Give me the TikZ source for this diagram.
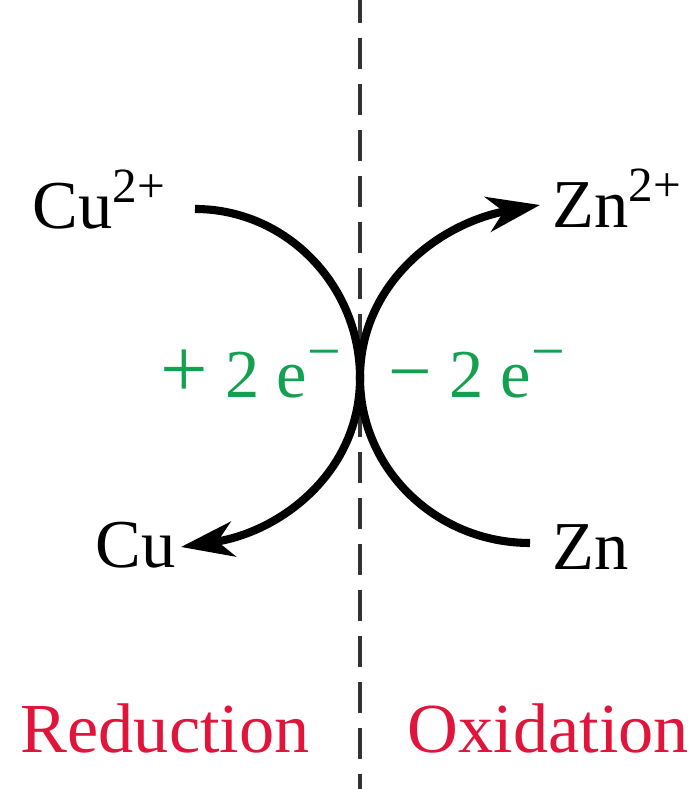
\documentclass[tikz,border=0pt]{standalone}
\usepackage{fontspec}
\setmainfont{Liberation Serif}
\usetikzlibrary{arrows.meta}

\definecolor{elecgreen}{RGB}{20,160,80}
\definecolor{redoxred}{RGB}{225,20,60}

\newcommand{\charge}[1]{\textsuperscript{\fontsize{14}{14}\selectfont #1}}

\begin{document}
\begin{tikzpicture}[>={Stealth[length=15pt, width=10pt, inset=4.5pt]},
  species/.style={anchor=base west, inner sep=0pt, font=\fontsize{19.5}{23}\selectfont},
  electrons/.style={species, text=elecgreen},
  halfname/.style={species, text=redoxred, font=\fontsize{20}{24}\selectfont},
  transfer/.style={->, line width=2.3pt},
  divider/.style={line width=1.2pt, dash pattern=on 0.31cm off 0.15cm, dash phase=0.08cm, black!80}]

  \useasboundingbox (0,0) rectangle (6.99,7.89);

  % --- Dividing line between the two half-reactions ---
  \coordinate (divtop) at (3.60,7.89);
  \coordinate (divbot) at (3.60,0);
  \draw[divider] (divtop) -- (divbot);

  % --- Species ---
  \node[species] (cuion) at (0.32,5.60) {Cu\charge{2+}};
  \node[species] (znion) at (5.52,5.61) {Zn\charge{2+}};
  \node[species] (cumetal) at (0.95,2.21) {Cu};
  \node[species] (znmetal) at (5.52,2.19) {Zn};

  % --- Electrons gained / lost ---
  \node[electrons] (gain) at (1.60,3.91) {{\fontsize{24}{24}\selectfont +} 2 e\charge{\fontsize{17}{17}\selectfont −}};
  \node[electrons] (loss) at (3.88,3.91) {{\fontsize{22}{22}\selectfont −} 2 e\charge{\fontsize{17}{17}\selectfont −}};

  % --- Curve end points ---
  \coordinate (redstart) at (1.95,5.80);
  \coordinate (redend)   at (1.81,2.42);
  \coordinate (oxstart)  at (5.30,2.46);
  \coordinate (oxend)    at (5.40,5.84);
  \coordinate (touch)    at (3.60,4.11);

  % --- Reduction: Cu2+ -> Cu ---
  \draw[transfer] (redstart) .. controls +(0.91,0) and +(0,0.93) .. (touch)
                  .. controls +(0,-0.94) and +(1.0,0.15) .. (redend);

  % --- Oxidation: Zn -> Zn2+ ---
  \draw[transfer] (oxstart) .. controls +(-0.94,0) and +(0,-0.91) .. (touch)
                  .. controls +(0,0.95) and +(-1.0,-0.18) .. (oxend);

  % --- Half-reaction names ---
  \node[halfname] (red) at (0.20,0.37) {Reduction};
  \node[halfname] (ox)  at (4.07,0.37) {Oxidation};

\end{tikzpicture}
\end{document}
